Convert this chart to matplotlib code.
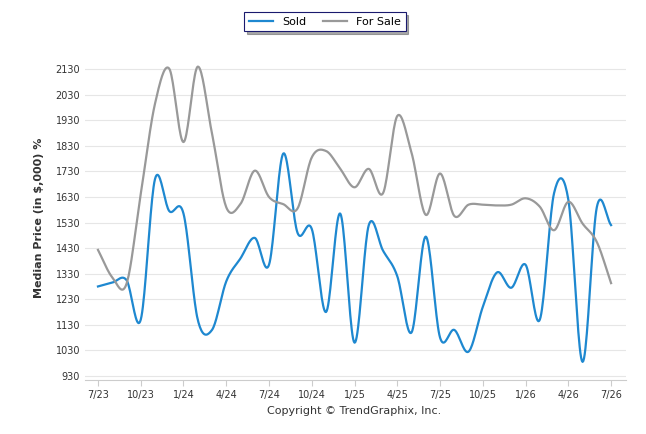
import numpy as np
import matplotlib.pyplot as plt

months = list(range(37))
tick_labels = ["7/23", "10/23", "1/24", "4/24", "7/24", "10/24", "1/25", "4/25",
               "7/25", "10/25", "1/26", "4/26", "7/26"]
sold = [1280, 1295, 1305, 1150, 1700, 1575, 1565, 1150, 1110, 1300, 1390, 1470, 1365,
        1800, 1490, 1505, 1180, 1565, 1060, 1520, 1420, 1320, 1100, 1475, 1080, 1110,
        1025, 1200, 1335, 1275, 1365, 1150, 1645, 1620, 985, 1590, 1520]
for_sale = [1423, 1316, 1290, 1642, 1995, 2132, 1845, 2140, 1878, 1590, 1603, 1733, 1630,
            1602, 1585, 1785, 1810, 1740, 1668, 1740, 1645, 1947, 1803, 1560, 1722, 1556,
            1600, 1600, 1597, 1600, 1625, 1592, 1500, 1611, 1526, 1454, 1293]


def smooth(x, y, n=20):
    x = np.asarray(x, float)
    y = np.asarray(y, float)
    xp = np.concatenate([[2 * x[0] - x[1]], x, [2 * x[-1] - x[-2]]])
    yp = np.concatenate([[2 * y[0] - y[1]], y, [2 * y[-1] - y[-2]]])
    xs, ys = [], []
    for i in range(1, len(xp) - 2):
        t = np.linspace(0, 1, n, endpoint=False)
        for arr, out in ((xp, xs), (yp, ys)):
            p0, p1, p2, p3 = arr[i - 1:i + 3]
            out.extend(0.5 * (2 * p1 + (-p0 + p2) * t + (2 * p0 - 5 * p1 + 4 * p2 - p3) * t ** 2
                              + (-p0 + 3 * p1 - 3 * p2 + p3) * t ** 3))
    xs.append(x[-1])
    ys.append(y[-1])
    return xs, ys


fig = plt.figure(figsize=(6.46, 4.34), dpi=100)
ax = fig.add_axes([0.1316, 0.125, 0.8375, 0.745])
ax.plot(*smooth(months, sold), color="#1e88d0", lw=1.6, label="Sold")
ax.plot(*smooth(months, for_sale), color="#999999", lw=1.6, label="For Sale")

ax.set_xlim(-0.91, 37.05)
ax.set_ylim(915, 2180)
ax.set_xticks(range(0, 37, 3))
ax.set_xticklabels(tick_labels)
ax.set_yticks(range(930, 2131, 100))
ax.grid(axis="y", color="#e6e6e6", lw=0.8)
for s in ["top", "right", "left"]:
    ax.spines[s].set_visible(False)
ax.spines["bottom"].set_color("#cccccc")
ax.tick_params(axis="both", labelsize=7, colors="#333333", length=0)
ax.tick_params(axis="x", length=4, color="#cccccc")
ax.set_ylabel("Median Price (in $,000) %", fontsize=8, fontweight="bold", color="#333333", labelpad=8)

leg = fig.legend(loc="upper center", bbox_to_anchor=(0.503, 0.985), ncol=2, fontsize=8,
                 frameon=True, fancybox=False, shadow={"ox": 2, "oy": -2, "color": "#555555"},
                 edgecolor="#1a1a6e", handlelength=2.2, columnspacing=1.5)
leg.get_frame().set_linewidth(0.8)
fig.text(0.548, 0.045, "Copyright \u00a9 TrendGraphix, Inc.", ha="center", fontsize=8, color="#333333")

fig.savefig("out.png")
